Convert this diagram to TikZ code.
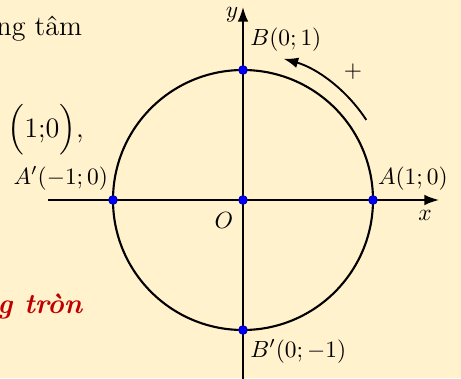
\documentclass[tikz,border=0pt]{standalone}
\usepackage{amsmath}
\usepackage{xcolor}
\usepackage{tikz}
\usetikzlibrary{arrows.meta, positioning, calc}

\definecolor{bgcream}{RGB}{255,242,204}
\definecolor{darkred}{RGB}{192,0,0}

\begin{document}
\begin{tikzpicture}[
    x=0.015cm, y=0.015cm,
    axis/.style={line width=0.8pt, -{Latex[length=2.2mm, width=1.6mm]}},
    circ/.style={line width=0.9pt},
    pt/.style={circle, fill=blue, draw=blue!60!black, inner sep=0pt, minimum size=1.3mm},
    lbl/.style={inner sep=1.5pt, font=\normalsize},
    side/.style={font=\large, inner sep=0pt},
]
% background and frame of the picture
\fill[bgcream] (-243,-178) rectangle (218,200);
\useasboundingbox (-243,-178) rectangle (218,200);

% text left of the figure
\node[side, anchor=base west] (txt1) at (-247,165) {ng tâm};
\node[side, anchor=base west] (txt2) at (-236,63) {$\Bigl(1{;}0\Bigr)$,};
\node[side, anchor=base west, text=darkred, font=\large\bfseries\itshape] (txt3) at (-246,-113) {g tròn};

% axes
\coordinate (O) at (0,0);
\coordinate (xl) at (-195,0);
\coordinate (xr) at (196,0);
\coordinate (yb) at (0,-185);
\coordinate (yt) at (0,193);
\draw[axis] (xl) -- (xr);
\draw[axis] (yb) -- (yt);
\node[lbl] (xlab) at (182,-15) {$x$};
\node[lbl] (ylab) at (-11,185) {$y$};

% unit circle
\draw[circ] (O) circle (130);

% positive direction
\draw[line width=0.8pt, -{Latex[length=2.2mm, width=1.6mm]}] (33:147) arc (33:74:147);
\node[lbl] (plus) at (110,128) {$+$};

% points
\node[pt] (A) at (130,0) {};
\node[pt] (A1) at (-130,0) {};
\node[pt] (B) at (0,130) {};
\node[pt] (B1) at (0,-130) {};
\node[pt] (Oo) at (O) {};

\node[lbl, above right=1pt and -1pt of A] (Alab) {$A(1;0)$};
\node[lbl, above left=1pt and -1pt of A1] (A1lab) {$A'(-1;0)$};
\node[lbl, above right=5pt and 0pt of B] (Blab) {$B(0;1)$};
\node[lbl, below right=1pt and 0pt of B1] (B1lab) {$B'(0;-1)$};
\node[lbl, below left=2pt and 1pt of Oo] (Olab) {$O$};

\end{tikzpicture}
\end{document}
